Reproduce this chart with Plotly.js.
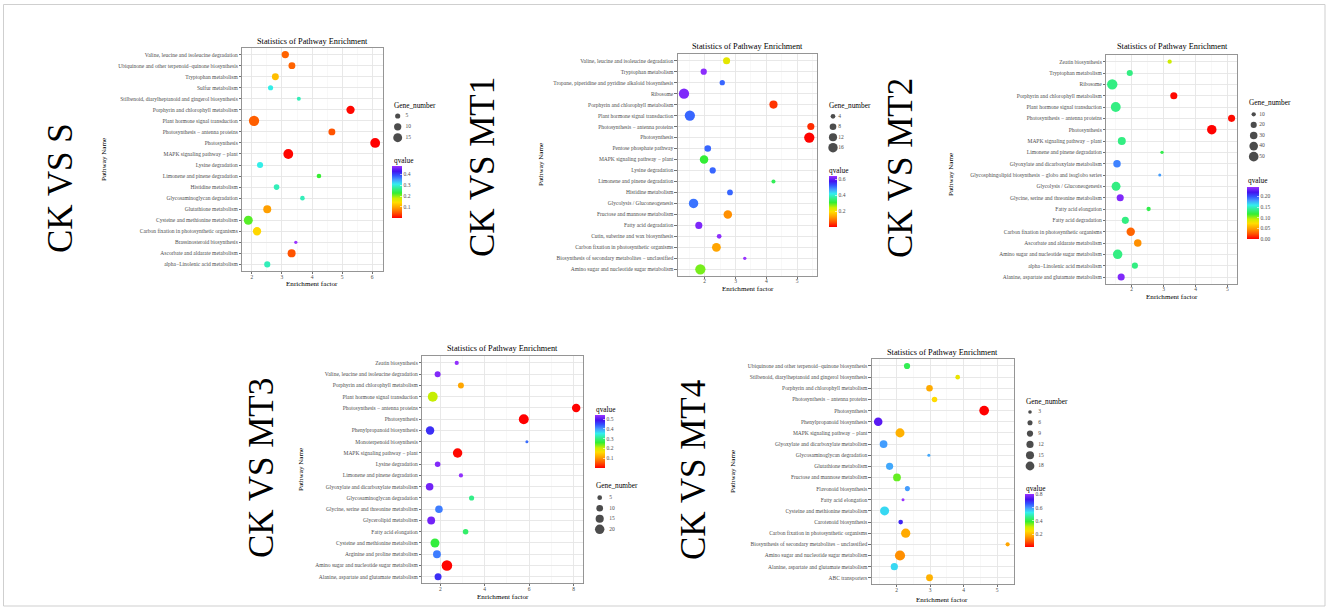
<!DOCTYPE html>
<html><head><meta charset="utf-8">
<script src="https://cdn.plot.ly/plotly-3.0.1.min.js"></script>
<style>html,body{margin:0;padding:0;background:#fff}#chart{width:1328px;height:609px}</style>
</head><body><div id="chart"></div>
<script>
// ---------------- DATA ----------------
const comparisons = ['CK VS S', 'CK VS MT1', 'CK VS MT2', 'CK VS MT3', 'CK VS MT4'];

const s_pathways = ['Valine, leucine and isoleucine degradation','Ubiquinone and other terpenoid\u2212quinone biosynthesis','Tryptophan metabolism','Sulfur metabolism','Stilbenoid, diarylheptanoid and gingerol biosynthesis','Porphyrin and chlorophyll metabolism','Plant hormone signal transduction','Photosynthesis \u2212 antenna proteins','Photosynthesis','MAPK signaling pathway \u2212 plant','Lysine degradation','Limonene and pinene degradation','Histidine metabolism','Glycosaminoglycan degradation','Glutathione metabolism','Cysteine and methionine metabolism','Carbon fixation in photosynthetic organisms','Brassinosteroid biosynthesis','Ascorbate and aldarate metabolism','alpha\u2212Linolenic acid metabolism'];
const s_factor = [3.11,3.33,2.78,2.62,3.56,5.28,2.07,4.66,6.10,3.21,2.27,4.23,2.82,3.68,2.51,1.88,2.17,3.46,3.32,2.51];
const s_genes  = [10,9,9,5,3,13,20,9,18,18,7,4,6,4,12,15,13,2,12,7];
const s_q      = [0.058,0.058,0.12,0.31,0.29,0.005,0.055,0.048,0.001,0.004,0.31,0.23,0.29,0.29,0.096,0.22,0.14,0.48,0.048,0.29];
const s_gene_breaks = [5,10,15];

const mt1_pathways = ['Valine, leucine and isoleucine degradation','Tryptophan metabolism','Tropane, piperidine and pyridine alkaloid biosynthesis','Ribosome','Porphyrin and chlorophyll metabolism','Plant hormone signal transduction','Photosynthesis \u2212 antenna proteins','Photosynthesis','Pentose phosphate pathway','MAPK signaling pathway \u2212 plant','Lysine degradation','Limonene and pinene degradation','Histidine metabolism','Glycolysis / Gluconeogenesis','Fructose and mannose metabolism','Fatty acid degradation','Cutin, suberine and wax biosynthesis','Carbon fixation in photosynthetic organisms','Biosynthesis of secondary metabolites \u2212 unclassified','Amino sugar and nucleotide sugar metabolism'];
const mt1_factor = [2.71,1.97,2.57,1.33,4.23,1.52,5.44,5.39,2.10,1.98,2.26,4.23,2.82,1.64,2.75,1.81,2.47,2.38,3.30,1.86];
const mt1_genes  = [9,7,5,19,12,19,9,19,8,13,7,3,6,16,13,9,4,14,2,19];
const mt1_q      = [0.22,0.63,0.51,0.62,0.04,0.51,0.035,0.004,0.51,0.31,0.51,0.33,0.51,0.50,0.115,0.62,0.63,0.135,0.64,0.28];
const mt1_gene_breaks = [4,8,12,16];

const mt2_pathways = ['Zeatin biosynthesis','Tryptophan metabolism','Ribosome','Porphyrin and chlorophyll metabolism','Plant hormone signal transduction','Photosynthesis \u2212 antenna proteins','Photosynthesis','MAPK signaling pathway \u2212 plant','Limonene and pinene degradation','Glyoxylate and dicarboxylate metabolism','Glycosphingolipid biosynthesis \u2212 globo and isoglobo series','Glycolysis / Gluconeogenesis','Glycine, serine and threonine metabolism','Fatty acid elongation','Fatty acid degradation','Carbon fixation in photosynthetic organisms','Ascorbate and aldarate metabolism','Amino sugar and nucleotide sugar metabolism','alpha\u2212Linolenic acid metabolism','Alanine, aspartate and glutamate metabolism'];
const mt2_factor = [3.19,1.94,1.39,3.32,1.50,5.13,4.51,1.69,2.95,1.54,2.88,1.51,1.64,2.53,1.80,1.97,2.19,1.56,2.10,1.67];
const mt2_genes  = [10,20,58,27,52,27,48,34,6,30,3,43,27,10,27,38,30,48,20,27];
const mt2_q      = [0.091,0.134,0.134,0.002,0.134,0.003,0.0005,0.134,0.122,0.185,0.178,0.134,0.235,0.122,0.134,0.029,0.043,0.134,0.134,0.235];
const mt2_gene_breaks = [10,20,30,40,50];

const mt3_pathways = ['Zeatin biosynthesis','Valine, leucine and isoleucine degradation','Porphyrin and chlorophyll metabolism','Plant hormone signal transduction','Photosynthesis \u2212 antenna proteins','Photosynthesis','Phenylpropanoid biosynthesis','Monoterpenoid biosynthesis','MAPK signaling pathway \u2212 plant','Lysine degradation','Limonene and pinene degradation','Glyoxylate and dicarboxylate metabolism','Glycosaminoglycan degradation','Glycine, serine and threonine metabolism','Glycerolipid metabolism','Fatty acid elongation','Cysteine and methionine metabolism','Arginine and proline metabolism','Amino sugar and nucleotide sugar metabolism','Alanine, aspartate and glutamate metabolism'];
const mt3_factor = [2.74,1.88,2.93,1.66,8.12,5.76,1.54,5.90,2.78,1.88,2.93,1.52,3.41,1.94,1.59,3.14,1.76,1.85,2.30,1.90];
const mt3_genes  = [4,8,8,22,16,22,16,1,20,7,4,13,6,13,14,7,18,14,25,11];
const mt3_q      = [0.54,0.53,0.115,0.21,0.002,0.001,0.47,0.43,0.006,0.53,0.54,0.52,0.305,0.42,0.52,0.29,0.267,0.42,0.003,0.47];
const mt3_gene_breaks = [5,10,15,20];

const mt4_pathways = ['Ubiquinone and other terpenoid\u2212quinone biosynthesis','Stilbenoid, diarylheptanoid and gingerol biosynthesis','Porphyrin and chlorophyll metabolism','Photosynthesis \u2212 antenna proteins','Photosynthesis','Phenylpropanoid biosynthesis','MAPK signaling pathway \u2212 plant','Glyoxylate and dicarboxylate metabolism','Glycosaminoglycan degradation','Glutathione metabolism','Fructose and mannose metabolism','Flavonoid biosynthesis','Fatty acid elongation','Cysteine and methionine metabolism','Carotenoid biosynthesis','Carbon fixation in photosynthetic organisms','Biosynthesis of secondary metabolites \u2212 unclassified','Amino sugar and nucleotide sugar metabolism','Alanine, aspartate and glutamate metabolism','ABC transporters'];
const mt4_factor = [2.31,3.82,2.98,3.13,4.61,1.45,2.10,1.61,2.96,1.79,2.01,2.32,2.19,1.64,2.12,2.27,5.31,2.10,1.93,2.98];
const mt4_genes  = [9,5,10,7,22,17,19,14,1,12,14,6,2,19,5,20,4,24,12,11];
const mt4_q      = [0.41,0.27,0.176,0.24,0.004,0.74,0.185,0.59,0.58,0.58,0.36,0.59,0.80,0.54,0.70,0.176,0.17,0.145,0.54,0.185];
const mt4_gene_breaks = [3,6,9,12,15,18];

// ---------------- LAYOUT ----------------
const W = 1328, H = 609;
const fx = p => p / W, fy = p => 1 - p / H;
const SERIF = 'Liberation Serif, Times New Roman, serif';
const GREY = '#4d4d4d';
const colorscale = [[0,'#FF0000'],[0.1,'#FF5500'],[0.2,'#FFA000'],[0.3,'#FFDD00'],[0.38,'#CCEE00'],[0.48,'#33EE33'],[0.56,'#33EE88'],[0.65,'#33EEEE'],[0.74,'#4499FF'],[0.82,'#3350FF'],[0.9,'#4411EE'],[1,'#9933FF']];

const panels = [
  {pathways:s_pathways, factor:s_factor, genes:s_genes, q:s_q, breaks:s_gene_breaks,
   frame:[242.3,382.7,48,271], xr:[1.68,6.35], dtick:1, sizeref:0.375, cmin:0.001, cmax:0.48, cdtick:0.1, cfmt:'',
   title:[312.5,41], xt:[312,284], yt:[104,160], big:[60,188],
   leg:{title:[392.7,105], rows:[116,137.7], dot:397.7, lab:405.5},
   cb:{title:[392.7,160], x0:392.3, x1:402.7, y0:165.7, y1:217.7}},
  {pathways:mt1_pathways, factor:mt1_factor, genes:mt1_genes, q:mt1_q, breaks:mt1_gene_breaks,
   frame:[677.7,817.3,54.1,275.9], xr:[1.126,5.65], dtick:1, sizeref:0.36, cmin:0.002, cmax:0.64, cdtick:0.2, cfmt:'',
   title:[747.5,46], xt:[747.7,288.7], yt:[541,165], big:[482,167],
   leg:{title:[828.3,105.3], rows:[116.3,147.7], dot:833, lab:838.3},
   cb:{title:[828.3,170], x0:828.7, x1:836.7, y0:176.3, y1:227.3}},
  {pathways:mt2_pathways, factor:mt2_factor, genes:mt2_genes, q:mt2_q, breaks:mt2_gene_breaks,
   frame:[1106.3,1237.3,54.9,283.8], xr:[1.204,5.31], dtick:1, sizeref:1.07, cmin:-0.0001, cmax:0.242, cdtick:0.05, cfmt:'.2f',
   title:[1172.3,46.3], xt:[1171.8,297], yt:[951,175], big:[900,168],
   leg:{title:[1248.3,102.3], rows:[114.3,156.7], dot:1253.7, lab:1259.3},
   cb:{title:[1247.3,180], x0:1247.3, x1:1259.3, y0:187.3, y1:239.3}},
  {pathways:mt3_pathways, factor:mt3_factor, genes:mt3_genes, q:mt3_q, breaks:mt3_gene_breaks,
   frame:[422.3,583.5,356.2,583.5], xr:[1.19,8.45], dtick:2, sizeref:0.45, cmin:0.001, cmax:0.545, cdtick:0.1, cfmt:'',
   title:[502.7,348.3], xt:[503,597], yt:[301,470], big:[262,468],
   leg:{title:[595,485.7], rows:[497.7,529.3], dot:599.7, lab:609.3},
   cb:{title:[594.7,409], x0:594.7, x1:604.7, y0:414.7, y1:467.3}},
  {pathways:mt4_pathways, factor:mt4_factor, genes:mt4_genes, q:mt4_q, breaks:mt4_gene_breaks,
   frame:[871.7,1014,359.3,584.5], xr:[1.256,5.5], dtick:1, sizeref:0.465, cmin:0.004, cmax:0.80, cdtick:0.2, cfmt:'',
   title:[942.7,352], xt:[941.7,599.5], yt:[732.3,471.7], big:[694,470],
   leg:{title:[1025.3,401.3], rows:[412,466], dot:1030, lab:1038.3},
   cb:{title:[1025.3,488.3], x0:1025.3, x1:1034, y0:494.3, y1:547.3}}
];

const traces = [];
const layout = {
  width: W, height: H,
  margin: {l:0, r:0, t:0, b:0, autoexpand:false},
  paper_bgcolor: '#fff', plot_bgcolor: '#fff',
  showlegend: false,
  font: {family: SERIF, color: '#000'},
  annotations: [],
  shapes: [{type:'rect', xref:'paper', yref:'paper', x0:fx(3.5), x1:fx(1325), y0:fy(606), y1:fy(4.5),
            line:{color:'#cfcfcf', width:1}}]
};

function ann(text, x, y, size, opts) {
  layout.annotations.push(Object.assign({
    text: text, xref:'paper', yref:'paper', x: fx(x), y: fy(y),
    xanchor:'center', yanchor:'middle', showarrow:false,
    font:{family:SERIF, size:size, color:'#000'}, borderpad:0
  }, opts || {}));
}

panels.forEach((p, i) => {
  const k = i + 1;
  const xa = k === 1 ? 'x' : 'x' + k, ya = k === 1 ? 'y' : 'y' + k;
  const n = p.pathways.length;
  layout['xaxis' + (k === 1 ? '' : k)] = {
    domain:[fx(p.frame[0]), fx(p.frame[1])], anchor: ya, range: p.xr,
    tick0: 0, dtick: p.dtick, ticks:'outside', ticklen:2, tickwidth:0.7, tickcolor:'#333',
    ticklabelstandoff:-2,
    tickfont:{family:SERIF, size:5.5, color:GREY},
    showline:true, mirror:true, linecolor:'#8a8a8a', linewidth:0.9,
    showgrid:true, gridcolor:'#e6e6e6', gridwidth:0.9, zeroline:false,
    minor:{dtick:p.dtick/2, showgrid:true, gridcolor:'#f1f1f1', gridwidth:0.5, ticks:''}
  };
  layout['yaxis' + (k === 1 ? '' : k)] = {
    domain:[fy(p.frame[3]), fy(p.frame[2])], anchor: xa,
    type:'category', categoryorder:'array', categoryarray:p.pathways,
    range:[n - 1 + 0.6, -0.6],
    ticks:'outside', ticklen:2.5, tickwidth:0.7, tickcolor:'#333',
    tickfont:{family:SERIF, size:5.5, color:GREY},
    showline:true, mirror:true, linecolor:'#8a8a8a', linewidth:0.9,
    showgrid:true, gridcolor:'#e6e6e6', gridwidth:0.9, zeroline:false
  };
  const ca = 'coloraxis' + (k === 1 ? '' : k);
  layout[ca] = {
    cmin:p.cmin, cmax:p.cmax, colorscale: colorscale,
    colorbar:{
      x: fx(p.cb.x0), xanchor:'left', y: fy(p.cb.y0), yanchor:'top',
      len: p.cb.y1 - p.cb.y0, lenmode:'pixels',
      thickness: p.cb.x1 - p.cb.x0, thicknessmode:'pixels',
      xpad:0, ypad:0, outlinewidth:0,
      ticks:'inside', ticklen:2, tickwidth:0.6, tickcolor:'#fff',
      tick0:0, dtick:p.cdtick, tickformat:p.cfmt,
      tickfont:{family:SERIF, size:5.5, color:GREY},
      title:{text:''}
    }
  };
  traces.push({
    type:'scatter', mode:'markers', x:p.factor, y:p.pathways, xaxis:xa, yaxis:ya,
    marker:{size:p.genes, sizemode:'area', sizeref:p.sizeref, sizemin:1.5,
            color:p.q, coloraxis:ca, line:{width:0}, opacity:1},
    hoverinfo:'skip', cliponaxis:false
  });

  // size legend (own small axes)
  const lk = k + 5;
  const nb = p.breaks.length;
  const sp = (p.leg.rows[1] - p.leg.rows[0]) / (nb - 1);
  const labs = p.breaks.map(String);
  layout['xaxis' + lk] = {domain:[fx(p.leg.dot - 8), fx(p.leg.dot + 40)], range:[-8, 40],
    anchor:'y' + lk, visible:false, fixedrange:true};
  layout['yaxis' + lk] = {domain:[fy(p.leg.rows[1] + sp/2), fy(p.leg.rows[0] - sp/2)],
    anchor:'x' + lk, type:'category', categoryorder:'array', categoryarray:labs,
    range:[nb - 0.5, -0.5], visible:false, fixedrange:true};
  traces.push({
    type:'scatter', mode:'markers', x:labs.map(() => 0), y:labs, xaxis:'x' + lk, yaxis:'y' + lk,
    marker:{size:p.breaks, sizemode:'area', sizeref:p.sizeref, sizemin:1.5, color:'#000', line:{width:0}},
    hoverinfo:'skip', cliponaxis:false
  });
  traces.push({
    type:'scatter', mode:'text', x:labs.map(() => p.leg.lab - p.leg.dot), y:labs, text:labs,
    textposition:'middle right', textfont:{family:SERIF, size:5.5, color:GREY},
    xaxis:'x' + lk, yaxis:'y' + lk, hoverinfo:'skip', cliponaxis:false
  });

  // texts
  ann('Statistics of Pathway Enrichment', p.title[0], p.title[1], 8.3);
  ann('Enrichment factor', p.xt[0], p.xt[1], 7.1);
  ann('Pathway Name', p.yt[0], p.yt[1], 7.1, {textangle:-90});
  ann(comparisons[i], p.big[0], p.big[1], 35, {textangle:-90});
  ann('Gene_number', p.leg.title[0], p.leg.title[1], 7.3, {xanchor:'left'});
  ann('qvalue', p.cb.title[0], p.cb.title[1], 7.3, {xanchor:'left'});
});

Plotly.newPlot('chart', traces, layout, {staticPlot:true, displayModeBar:false});
</script>
</body></html>
